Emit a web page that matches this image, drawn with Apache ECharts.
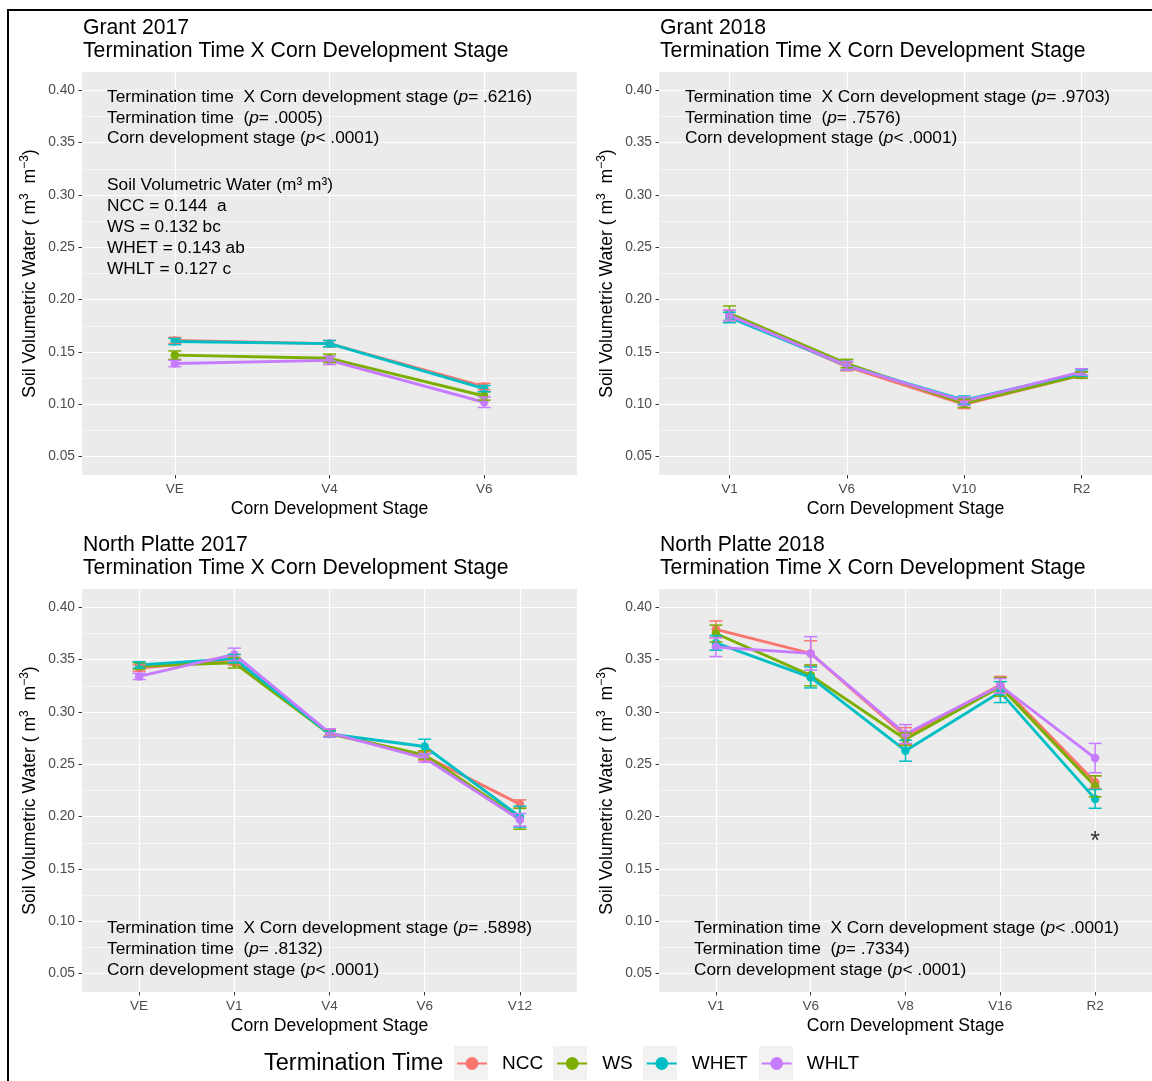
<!DOCTYPE html>
<html><head><meta charset="utf-8">
<script src="https://cdn.jsdelivr.net/npm/echarts@6/dist/echarts.min.js"></script>
<style>html,body{margin:0;padding:0;background:#fff}#c{width:1152px;height:1081px}</style>
</head><body><div id="c"></div>
<script>
// ---------- DATA ----------
const treatments = ['NCC', 'WS', 'WHET', 'WHLT'];
const yTickValues = [0.05, 0.10, 0.15, 0.20, 0.25, 0.30, 0.35, 0.40];
const yMinorValues = [0.075, 0.125, 0.175, 0.225, 0.275, 0.325, 0.375];

// Grant 2017
const grant17Stages = ['VE', 'V4', 'V6'];
const grant17NCC  = [0.161, 0.158, 0.117];
const grant17WS   = [0.147, 0.144, 0.108];
const grant17WHET = [0.160, 0.158, 0.115];
const grant17WHLT = [0.139, 0.142, 0.102];
const grant17NCCse  = [0.003, 0.003, 0.003];
const grant17WSse   = [0.004, 0.004, 0.004];
const grant17WHETse = [0.003, 0.003, 0.003];
const grant17WHLTse = [0.003, 0.004, 0.005];

// Grant 2018
const grant18Stages = ['V1', 'V6', 'V10', 'R2'];
const grant18NCC  = [0.185, 0.136, 0.100, 0.128];
const grant18WS   = [0.187, 0.139, 0.101, 0.128];
const grant18WHET = [0.183, 0.137, 0.104, 0.130];
const grant18WHLT = [0.185, 0.137, 0.103, 0.131];
const grant18NCCse  = [0.005, 0.004, 0.004, 0.003];
const grant18WSse   = [0.007, 0.004, 0.004, 0.003];
const grant18WHETse = [0.005, 0.004, 0.004, 0.003];
const grant18WHLTse = [0.005, 0.004, 0.004, 0.003];

// North Platte 2017
const np17Stages = ['VE', 'V1', 'V4', 'V6', 'V12'];
const np17NCC  = [0.342, 0.350, 0.280, 0.258, 0.212];
const np17WS   = [0.344, 0.347, 0.279, 0.259, 0.198];
const np17WHET = [0.345, 0.351, 0.279, 0.267, 0.200];
const np17WHLT = [0.334, 0.355, 0.280, 0.256, 0.197];
const np17NCCse  = [0.003, 0.005, 0.003, 0.004, 0.004];
const np17WSse   = [0.003, 0.005, 0.003, 0.004, 0.010];
const np17WHETse = [0.003, 0.004, 0.003, 0.007, 0.010];
const np17WHLTse = [0.003, 0.006, 0.004, 0.004, 0.006];

// North Platte 2018
const np18Stages = ['V1', 'V6', 'V8', 'V16', 'R2'];
const np18NCC  = [0.379, 0.356, 0.277, 0.326, 0.233];
const np18WS   = [0.375, 0.335, 0.274, 0.324, 0.229];
const np18WHET = [0.366, 0.333, 0.263, 0.319, 0.217];
const np18WHLT = [0.362, 0.356, 0.279, 0.325, 0.256];
const np18NCCse  = [0.008, 0.012, 0.008, 0.008, 0.006];
const np18WSse   = [0.008, 0.010, 0.006, 0.009, 0.010];
const np18WHETse = [0.007, 0.010, 0.010, 0.010, 0.009];
const np18WHLTse = [0.009, 0.016, 0.009, 0.007, 0.014];
const np18StarStage = 4;
const np18StarValue = 0.176;

// ---------- STYLE / LAYOUT ----------
const FONT = '"Liberation Sans", Arial, sans-serif';
const colors = { NCC: '#F8766D', WS: '#7CAE00', WHET: '#00BFC4', WHLT: '#C77CFF' };
const colLeft = [82, 659];
const rowTop = [72, 589];
const PW = 495, PH = 403;
const NOTE_FS = 17.3;

const panels = [
  { title: 'Grant 2017', stages: grant17Stages,
    vals: { NCC: grant17NCC, WS: grant17WS, WHET: grant17WHET, WHLT: grant17WHLT },
    se:   { NCC: grant17NCCse, WS: grant17WSse, WHET: grant17WHETse, WHLT: grant17WHLTse },
    col: 0, row: 0 },
  { title: 'Grant 2018', stages: grant18Stages,
    vals: { NCC: grant18NCC, WS: grant18WS, WHET: grant18WHET, WHLT: grant18WHLT },
    se:   { NCC: grant18NCCse, WS: grant18WSse, WHET: grant18WHETse, WHLT: grant18WHLTse },
    col: 1, row: 0 },
  { title: 'North Platte 2017', stages: np17Stages,
    vals: { NCC: np17NCC, WS: np17WS, WHET: np17WHET, WHLT: np17WHLT },
    se:   { NCC: np17NCCse, WS: np17WSse, WHET: np17WHETse, WHLT: np17WHLTse },
    col: 0, row: 1 },
  { title: 'North Platte 2018', stages: np18Stages,
    vals: { NCC: np18NCC, WS: np18WS, WHET: np18WHET, WHLT: np18WHLT },
    se:   { NCC: np18NCCse, WS: np18WSse, WHET: np18WHETse, WHLT: np18WHLTse },
    col: 1, row: 1 }
];

const grids = [], xAxes = [], yAxes = [], series = [], titles = [];
const itRich = {
  n: { fontSize: NOTE_FS, fontFamily: FONT, color: '#000' },
  it: { fontSize: NOTE_FS, fontFamily: FONT, fontStyle: 'italic', color: '#000' }
};

panels.forEach((p, gi) => {
  const left = colLeft[p.col], top = rowTop[p.row];
  grids.push({ left: left, top: top, width: PW, height: PH, show: true,
    backgroundColor: '#EBEBEB', borderWidth: 0, containLabel: false });
  const idx = p.stages.map((s, i) => i);
  xAxes.push({ type: 'value', gridIndex: gi, min: -0.6, max: p.stages.length - 0.4,
    name: 'Corn Development Stage', nameLocation: 'middle', nameGap: 25,
    nameTextStyle: { fontSize: 17.6, fontFamily: FONT, color: '#000' },
    axisLine: { show: false, onZero: false },
    axisTick: { show: true, length: 3.5, lineStyle: { color: '#333', width: 1 }, customValues: idx },
    axisLabel: { show: true, customValues: idx, margin: 7, fontSize: 13.5, fontFamily: FONT, color: '#4D4D4D',
      formatter: v => p.stages[Math.round(v)] },
    splitLine: { show: true, lineStyle: { color: '#FFFFFF', width: 1.2 } } });
  yAxes.push({ type: 'value', gridIndex: gi, min: 0.0325, max: 0.4175,
    name: 'Soil Volumetric Water ( m{sup|3}  m{sup|−3})', nameLocation: 'middle', nameGap: 41,
    nameTextStyle: { fontSize: 17.6, fontFamily: FONT, color: '#000', lineHeight: 22,
      rich: { sup: { fontSize: 12, fontFamily: FONT, color: '#000', verticalAlign: 'top', lineHeight: 13 } } },
    axisLine: { show: false, onZero: false },
    axisTick: { show: true, length: 3.5, lineStyle: { color: '#333', width: 1 }, customValues: yTickValues },
    axisLabel: { show: true, customValues: yTickValues, margin: 7, fontSize: 13.8, fontFamily: FONT, color: '#4D4D4D',
      formatter: v => v.toFixed(2) },
    splitLine: { show: true, lineStyle: { color: '#FFFFFF', width: 1.2 } } });
  yAxes.push({ type: 'value', gridIndex: gi, min: 0.0325, max: 0.4175, position: 'right',
    axisLine: { show: false, onZero: false },
    axisTick: { show: false, customValues: yMinorValues },
    axisLabel: { show: false, customValues: yMinorValues },
    splitLine: { show: true, lineStyle: { color: '#FFFFFF', width: 0.6 } } });

  titles.push({ text: p.title + '\nTermination Time X Corn Development Stage',
    left: left + 1, top: top - 55, padding: 0,
    textStyle: { fontSize: 21.2, fontWeight: 'normal', fontFamily: FONT, color: '#000', lineHeight: 23 } });

  treatments.forEach(t => {
    series.push({ type: 'line', name: t, xAxisIndex: gi, yAxisIndex: gi * 2,
      data: p.vals[t].map((v, i) => [i, v]),
      symbol: 'circle', symbolSize: 8.5, showAllSymbol: true,
      lineStyle: { color: colors[t], width: 2.9 },
      itemStyle: { color: colors[t] }, emphasis: { disabled: true }, z: 3 });
  });
  treatments.forEach(t => {
    series.push({ type: 'custom', name: t + ' se', xAxisIndex: gi, yAxisIndex: gi * 2,
      data: p.vals[t].map((v, i) => [i, v - p.se[t][i], v + p.se[t][i]]),
      encode: { x: 0, y: [1, 2] }, z: 4,
      renderItem: (params, api) => {
        const x = api.value(0);
        const a = api.coord([x, api.value(1)]);
        const b = api.coord([x, api.value(2)]);
        const hw = 6.5;
        const st = { stroke: colors[t], lineWidth: 1.5 };
        return { type: 'group', children: [
          { type: 'line', shape: { x1: a[0], y1: a[1], x2: b[0], y2: b[1] }, style: st },
          { type: 'line', shape: { x1: a[0] - hw, y1: a[1], x2: a[0] + hw, y2: a[1] }, style: st },
          { type: 'line', shape: { x1: b[0] - hw, y1: b[1], x2: b[0] + hw, y2: b[1] }, style: st }
        ] };
      } });
  });
});

// asterisk in North Platte 2018
series.push({ type: 'scatter', name: 'sig', xAxisIndex: 3, yAxisIndex: 6,
  data: [[np18StarStage, np18StarValue]], symbolSize: 1, itemStyle: { color: 'rgba(0,0,0,0)' },
  label: { show: true, position: 'inside', formatter: '*', fontSize: 25, fontFamily: FONT, color: '#000' },
  z: 5, silent: true });

function note(x, y, text, lh) {
  return { type: 'text', left: x, top: y, z: 10,
    style: { text: text, rich: itRich, fontSize: NOTE_FS, fontFamily: FONT, fill: '#000', lineHeight: lh } };
}
const graphics = [
  { type: 'rect', shape: { x: 8, y: 10, width: 1170, height: 1100 }, style: { fill: 'none', stroke: '#000', lineWidth: 2 }, z: 20 },
  note(107, 87, '{n|Termination time  X Corn development stage (}{it|p}{n|= .6216)}\n{n|Termination time  (}{it|p}{n|= .0005)}\n{n|Corn development stage (}{it|p}{n|< .0001)}', 20.6),
  note(107, 175, '{n|Soil Volumetric Water (m³ m³)}\n{n|NCC = 0.144  a}\n{n|WS = 0.132 bc}\n{n|WHET = 0.143 ab}\n{n|WHLT = 0.127 c}', 21),
  note(685, 87, '{n|Termination time  X Corn development stage (}{it|p}{n|= .9703)}\n{n|Termination time  (}{it|p}{n|= .7576)}\n{n|Corn development stage (}{it|p}{n|< .0001)}', 20.6),
  note(107, 918, '{n|Termination time  X Corn development stage (}{it|p}{n|= .5898)}\n{n|Termination time  (}{it|p}{n|= .8132)}\n{n|Corn development stage (}{it|p}{n|< .0001)}', 20.8),
  note(694, 918, '{n|Termination time  X Corn development stage (}{it|p}{n|< .0001)}\n{n|Termination time  (}{it|p}{n|= .7334)}\n{n|Corn development stage (}{it|p}{n|< .0001)}', 20.8),
  { type: 'text', left: 264, top: 1052, z: 10, style: { text: 'Termination Time', fontSize: 23.5, fontFamily: FONT, fill: '#000' } },
  { type: 'rect', shape: { x: 454, y: 1046, width: 34, height: 34 }, style: { fill: '#F2F2F2' }, z: 0 },
  { type: 'rect', shape: { x: 553, y: 1046, width: 34, height: 34 }, style: { fill: '#F2F2F2' }, z: 0 },
  { type: 'rect', shape: { x: 643, y: 1046, width: 34, height: 34 }, style: { fill: '#F2F2F2' }, z: 0 },
  { type: 'rect', shape: { x: 759, y: 1046, width: 34, height: 34 }, style: { fill: '#F2F2F2' }, z: 0 }
];

const chart = echarts.init(document.getElementById('c'), null, { renderer: 'canvas' });
chart.setOption({
  backgroundColor: '#FFFFFF',
  animation: false,
  title: titles,
  grid: grids,
  xAxis: xAxes,
  yAxis: yAxes,
  legend: { data: treatments, left: 456, top: 1054, padding: 0, itemWidth: 30, itemHeight: 16, itemGap: 13, z: 5,
    selectedMode: false,
    textStyle: { fontSize: 19, fontFamily: FONT, color: '#000', padding: [0, 0, 0, 10] } },
  graphic: graphics,
  series: series
});
</script></body></html>
